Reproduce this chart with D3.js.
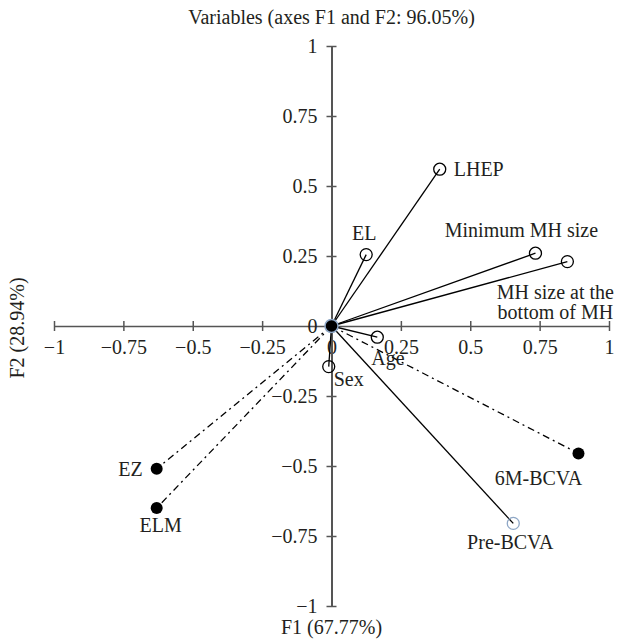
<!DOCTYPE html>
<html>
<head>
<meta charset="utf-8">
<script src="https://cdn.jsdelivr.net/npm/d3@7"></script>
<style>
  body { margin: 0; background: #fff; }
  svg text { font-family: "Liberation Serif", "DejaVu Serif", serif; fill: #231f20; }
</style>
</head>
<body>
<div id="chart"></div>
<script>
'use strict';

// variable loadings on F1 / F2
const varNames = ["LHEP", "EL", "Minimum MH size", "MH size at the|bottom of MH", "Age", "Sex",
                  "EZ", "ELM", "6M-BCVA", "Pre-BCVA"];
const f1Values = [0.39, 0.125, 0.735, 0.85, 0.165, -0.01, -0.63, -0.63, 0.89, 0.655];
const f2Values = [0.56, 0.255, 0.26, 0.23, -0.04, -0.145, -0.51, -0.65, -0.455, -0.705];
// supplementary (filled, dash-dot) vs active (open, solid)
const varKinds = ["active", "active", "active", "active", "active", "active",
                  "supp", "supp", "supp", "highlight"];

const tickValues = [-1, -0.75, -0.5, -0.25, 0, 0.25, 0.5, 0.75, 1];
const tickLabels = ["\u22121", "\u22120.75", "\u22120.5", "\u22120.25", "0", "0.25", "0.5", "0.75", "1"];

const titleText = "Variables (axes F1 and F2: 96.05%)";
const xTitle = "F1 (67.77%)";
const yTitle = "F2 (28.94%)";

// where each label sits relative to its point
const labelPlace = {
    "LHEP": { anchor: "start", dx: 14, dy: 7 },
    "EL": { anchor: "middle", dx: -2, dy: -15 },
    "Minimum MH size": { anchor: "middle", dx: -14, dy: -16 },
    "MH size at the|bottom of MH": { anchor: "middle", dx: -12, dy: 37 },
    "Age": { anchor: "start", dx: -6, dy: 28 },
    "Sex": { anchor: "start", dx: 5, dy: 19 },
    "EZ": { anchor: "end", dx: -14, dy: 7 },
    "ELM": { anchor: "middle", dx: 4, dy: 24 },
    "6M-BCVA": { anchor: "middle", dx: -40, dy: 32 },
    "Pre-BCVA": { anchor: "middle", dx: -3, dy: 26 }
};

const width = 619, height = 641;
const fontSize = 20;
const lineGap = 20;

const svg = d3.select("#chart").append("svg")
    .attr("width", width)
    .attr("height", height);

const x = d3.scaleLinear().domain([-1, 1]).range([54, 609]);
const y = d3.scaleLinear().domain([-1, 1]).range([606, 46]);

const axisColor = "#555";

// x axis
const xAxis = d3.axisBottom(x)
    .tickValues(tickValues)
    .tickFormat(function (d, i) { return tickLabels[i]; })
    .tickSizeOuter(0);
const gx = svg.append("g")
    .attr("transform", "translate(0," + y(0) + ")")
    .call(xAxis);
gx.select(".domain").attr("stroke", axisColor).attr("stroke-width", 1.5);
gx.selectAll(".tick line").attr("y1", -5).attr("y2", 5).attr("stroke", axisColor).attr("stroke-width", 1.5);
gx.selectAll(".tick text")
    .attr("y", 28).attr("dy", null)
    .style("font-size", fontSize + "px")
    .attr("fill", "#231f20");

// y axis
const yAxis = d3.axisLeft(y)
    .tickValues(tickValues)
    .tickFormat(function (d, i) { return tickLabels[i]; })
    .tickSizeOuter(0);
const gy = svg.append("g")
    .attr("transform", "translate(" + x(0) + ",0)")
    .call(yAxis);
gy.select(".domain").attr("stroke", axisColor).attr("stroke-width", 2);
gy.selectAll(".tick line").attr("x1", -5).attr("x2", 5).attr("stroke", axisColor).attr("stroke-width", 1.5);
gy.selectAll(".tick text")
    .attr("x", -14).attr("dy", "0.34em")
    .style("font-size", fontSize + "px")
    .attr("fill", "#231f20");

// titles
svg.append("text")
    .attr("x", x(0)).attr("y", 24)
    .attr("text-anchor", "middle")
    .style("font-size", fontSize + "px")
    .text(titleText);

svg.append("text")
    .attr("x", x(0)).attr("y", 634)
    .attr("text-anchor", "middle")
    .style("font-size", fontSize + "px")
    .text(xTitle);

svg.append("text")
    .attr("transform", "translate(24," + 328 + ") rotate(-90)")
    .attr("text-anchor", "middle")
    .style("font-size", fontSize + "px")
    .text(yTitle);

const data = varNames.map(function (n, i) {
    return { name: n, f1: f1Values[i], f2: f2Values[i], kind: varKinds[i] };
});

// vectors
svg.selectAll(".vec").data(data).enter()
    .append("line")
    .attr("class", "vec")
    .attr("x1", x(0)).attr("y1", y(0))
    .attr("x2", function (d) { return x(d.f1); })
    .attr("y2", function (d) { return y(d.f2); })
    .attr("stroke", "#000")
    .attr("stroke-width", 1.3)
    .attr("stroke-dasharray", function (d) { return d.kind === "supp" ? "7,4,2,4" : null; });

// points
svg.selectAll(".pt").data(data).enter()
    .append("circle")
    .attr("class", "pt")
    .attr("cx", function (d) { return x(d.f1); })
    .attr("cy", function (d) { return y(d.f2); })
    .attr("r", 6)
    .attr("fill", function (d) { return d.kind === "supp" ? "#000" : "none"; })
    .attr("stroke", function (d) { return d.kind === "highlight" ? "#8ea7c6" : "#000"; })
    .attr("stroke-width", function (d) { return d.kind === "supp" ? 0 : 1.3; });

// origin dot
svg.append("circle")
    .attr("cx", x(0)).attr("cy", y(0))
    .attr("r", 6.5)
    .attr("fill", "#000")
    .attr("stroke", "#8ea7c6")
    .attr("stroke-width", 1.5);

// labels
const lab = svg.selectAll(".lab").data(data).enter()
    .append("text")
    .attr("class", "lab")
    .attr("text-anchor", function (d) { return labelPlace[d.name].anchor; })
    .style("font-size", fontSize + "px");
lab.each(function (d) {
    const p = labelPlace[d.name];
    const parts = d.name.split("|");
    const t = d3.select(this);
    parts.forEach(function (s, k) {
        t.append("tspan")
            .attr("x", x(d.f1) + p.dx)
            .attr("y", y(d.f2) + p.dy + k * lineGap)
            .text(s);
    });
});
</script>
</body>
</html>
